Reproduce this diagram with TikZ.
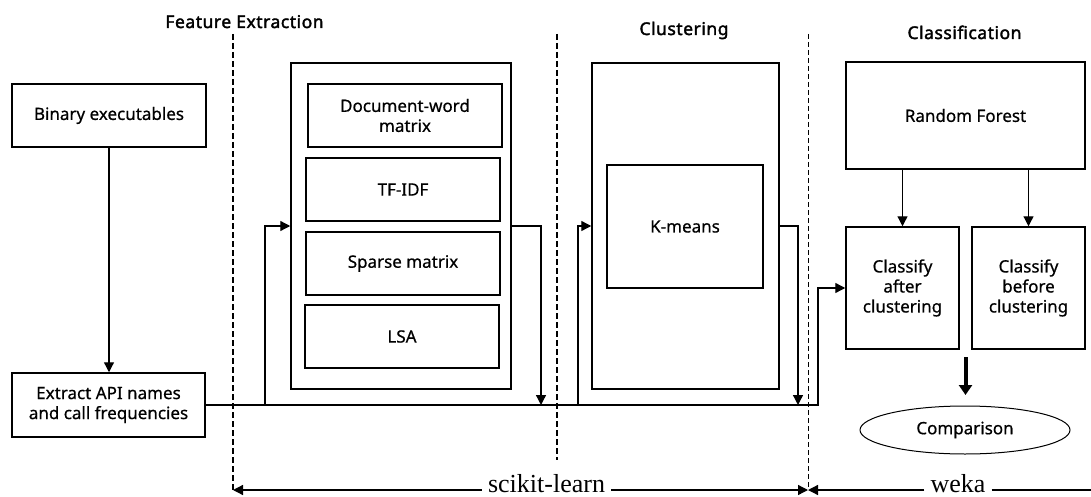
\documentclass[tikz,border=0pt]{standalone}
\usepackage{fontspec}
\newfontfamily\sansf{Noto Sans}[FakeBold=0.6]
\newfontfamily\titlef{Noto Sans}[FakeBold=2,LetterSpace=3]
\newfontfamily\serf{Liberation Serif}
\usetikzlibrary{arrows.meta,shapes.geometric}
\tikzset{
 box/.style={draw, line width=1.5pt, inner sep=0pt, align=center, font=\sansf\fontsize{17}{20}\selectfont},
 title/.style={font=\titlef\fontsize{17.5}{20}\selectfont, anchor=base, inner sep=0pt},
 conn/.style={line width=1.3pt},
 arr/.style={conn, -{Triangle[length=10pt,width=10pt]}},
 sepline/.style={line width=1.3pt, dash pattern=on 6pt off 3pt},
 septhin/.style={line width=0.8pt, dash pattern=on 5pt off 3pt},
 lib/.style={font=\serf\fontsize{26}{28}\selectfont, anchor=mid, inner sep=6pt},
 bigarrow/.style={line width=4pt, -{Triangle[length=10pt,width=13pt]}},
}
\begin{document}
\begin{tikzpicture}[x=1pt,y=-1pt]
\useasboundingbox (0,0) rectangle (1091,497);
% titles
\node[title] (t1) at (244.5,28) {Feature Extraction};
\node[title] (t2) at (684,35) {Clustering};
\node[title] (t3) at (964.5,39) {Classification};
% separators
\coordinate (d1t) at (233,34); \coordinate (d1b) at (233,490);
\coordinate (d2t) at (557,34); \coordinate (d2b) at (557,460);
\coordinate (d3t) at (808,34); \coordinate (d3b) at (808,490);
\draw[sepline] (d1t) -- (d1b);
\draw[sepline] (d2t) -- (d2b);
\draw[septhin] (d3t) -- (d3b);
% left boxes
\node[box, minimum width=194, minimum height=63] (bin) at (109,115.5) {Binary executables};
\node[box, minimum width=193, minimum height=64] (ext) at (108.5,405) {Extract API names\\and call frequencies};
% feature extraction
\node[box, minimum width=220, minimum height=326] (fe) at (401,226) {};
\node[box, minimum width=194, minimum height=63] (dw) at (405,115.5) {Document-word\\matrix};
\node[box, minimum width=194, minimum height=63] (tf) at (403,189.5) {TF-IDF};
\node[box, minimum width=194, minimum height=63] (sp) at (403,263.5) {Sparse matrix};
\node[box, minimum width=194, minimum height=63] (lsa) at (402,336.5) {LSA};
% clustering
\node[box, minimum width=187, minimum height=326] (cl) at (685.5,226) {};
\node[box, minimum width=156, minimum height=123] (km) at (685,226.5) {K-means};
% classification
\node[box, minimum width=239, minimum height=107] (rf) at (965.5,115.5) {Random Forest};
\node[box, minimum width=113, minimum height=122] (ca) at (902.5,288) {Classify\\after\\clustering};
\node[box, minimum width=113, minimum height=122] (cb) at (1028.5,288) {Classify\\before\\clustering};
\node[ellipse, draw, line width=1pt, inner sep=0pt, minimum width=210, minimum height=48, font=\sansf\fontsize{17}{20}\selectfont] (cmp) at (965,430) {Comparison};
% connectors
\draw[arr] (bin.south) -- (bin.south |- ext.north);
\coordinate (j1) at (265,405);
\coordinate (j2) at (541,405);
\coordinate (j3) at (578,405);
\coordinate (j4) at (798,405);
\coordinate (j5) at (818,405);
\draw[arr] (ext.east) -- (j5) |- (ca.west);
\draw[arr] (j1) |- (fe.west);
\draw[arr] (fe.east) -| (j2);
\draw[arr] (j3) |- (cl.west);
\draw[arr] (cl.east) -| (j4);
\draw[arr] (rf.south -| ca.north) -- (ca.north);
\draw[arr] (rf.south -| cb.north) -- (cb.north);
\coordinate (ta) at (965.5,357);
\coordinate (tb) at (965.5,395);
\draw[bigarrow] (ta) -- (tb);
% libraries
\node[lib] (sk) at (546.5,490) {scikit-learn};
\node[lib] (wk) at (958,490) {weka};
\coordinate (wr) at (1095,490);
\draw[arr] (sk.mid west) -- (d1b);
\draw[arr] (sk.mid east) -- (d3b);
\draw[arr] (wk.mid west) -- (d3b);
\draw[conn] (wk.mid east) -- (wr);
\end{tikzpicture}
\end{document}
